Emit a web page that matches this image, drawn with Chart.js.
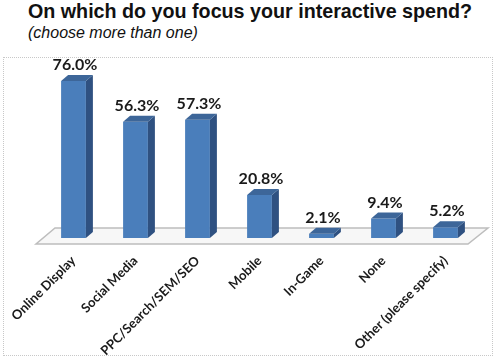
<!DOCTYPE html>
<html>
<head>
<meta charset="utf-8">
<script src="https://cdn.jsdelivr.net/npm/chart.js@4/dist/chart.umd.min.js"></script>
<style>
    body { margin: 0; background: #fff; width: 499px; height: 359px; overflow: hidden; position: relative; }
    #title { position: absolute; left: 28px; top: 2px; font: bold 19.7px/19.7px "Liberation Sans", Arial, sans-serif; color: #111; white-space: nowrap; }
    #subtitle { position: absolute; left: 28px; top: 25px; font: italic 16px/16px "Liberation Sans", Arial, sans-serif; color: #111; white-space: nowrap; }
    #box { position: absolute; left: 3px; top: 57px; width: 488px; height: 297px; border: 1px dotted #c8c8c8; }
</style>
</head>
<body>
<div id="title">On which do you focus your interactive spend?</div>
<div id="subtitle">(choose more than one)</div>
<div id="box"><canvas id="chart" width="488" height="297"></canvas></div>
<script>
const categories = ['Online Display', 'Social Media', 'PPC/Search/SEM/SEO', 'Mobile', 'In-Game', 'None', 'Other (please specify)'];
const shares = [76.0, 56.3, 57.3, 20.8, 2.1, 9.4, 5.2];

const frontColor = '#4a7ebb';
const sideColor = '#2f5181';
const topColor = '#3d6699';
const depthX = 7;
const depthY = -6;

// faux 3D: floor under the bars, side/top faces and value labels on top
const bars3d = {
    id: 'bars3d',
    beforeDatasetsDraw(chart) {
        const ctx = chart.ctx;
        const xs = chart.scales.x;
        const yb = chart.scales.y.getPixelForValue(0);
        ctx.save();
        ctx.beginPath();
        ctx.moveTo(xs.left - 6.5, yb + 6);
        ctx.lineTo(xs.right - 8.5, yb + 6);
        ctx.lineTo(xs.right + 11.5, yb - 10);
        ctx.lineTo(xs.left + 12.5, yb - 10);
        ctx.closePath();
        ctx.fillStyle = '#f7f7f7';
        ctx.fill();
        ctx.strokeStyle = '#bdbdbd';
        ctx.lineWidth = 1.5;
        ctx.stroke();
        ctx.restore();
    },
    afterDatasetsDraw(chart) {
        const ctx = chart.ctx;
        const meta = chart.getDatasetMeta(0);
        ctx.save();
        meta.data.forEach(function(bar, i) {
            const p = bar.getProps(['x', 'y', 'base', 'width'], true);
            const l = p.x - p.width / 2;
            const r = p.x + p.width / 2;

            ctx.fillStyle = sideColor;
            ctx.beginPath();
            ctx.moveTo(r, p.y);
            ctx.lineTo(r + depthX, p.y + depthY);
            ctx.lineTo(r + depthX, p.base + depthY);
            ctx.lineTo(r, p.base);
            ctx.closePath();
            ctx.fill();

            ctx.fillStyle = topColor;
            ctx.beginPath();
            ctx.moveTo(l, p.y);
            ctx.lineTo(r, p.y);
            ctx.lineTo(r + depthX, p.y + depthY);
            ctx.lineTo(l + depthX, p.y + depthY);
            ctx.closePath();
            ctx.fill();

            ctx.fillStyle = '#1a1a1a';
            ctx.font = 'bold 16px Lato, "Open Sans", sans-serif';
            ctx.textAlign = 'center';
            ctx.textBaseline = 'alphabetic';
            ctx.fillText(shares[i].toFixed(1) + '%', p.x + depthX / 2 - 2, p.y + depthY - 5);
        });
        ctx.restore();
    }
};

new Chart(document.getElementById('chart'), {
    type: 'bar',
    data: {
        labels: categories,
        datasets: [{
            data: shares,
            backgroundColor: frontColor,
            borderWidth: 0,
            barPercentage: 0.8,
            categoryPercentage: 0.5
        }]
    },
    options: {
        responsive: false,
        animation: false,
        layout: { padding: { left: 38.5, right: 15.5, top: 14.8, bottom: 0 } },
        plugins: {
            legend: { display: false },
            tooltip: { enabled: false }
        },
        scales: {
            x: {
                offset: true,
                grid: { display: false, drawTicks: false },
                border: { display: false },
                ticks: {
                    color: '#1a1a1a',
                    font: { family: 'Lato, "Open Sans", sans-serif', size: 13, weight: 'bold' },
                    minRotation: 45,
                    maxRotation: 45,
                    padding: 15
                },
                afterFit(scale) {
                    scale.height = 117;
                    scale.paddingLeft = 0;
                    scale.paddingRight = 0;
                }
            },
            y: {
                display: false,
                min: 0,
                max: 80
            }
        }
    },
    plugins: [bars3d]
});
</script>
</body>
</html>
